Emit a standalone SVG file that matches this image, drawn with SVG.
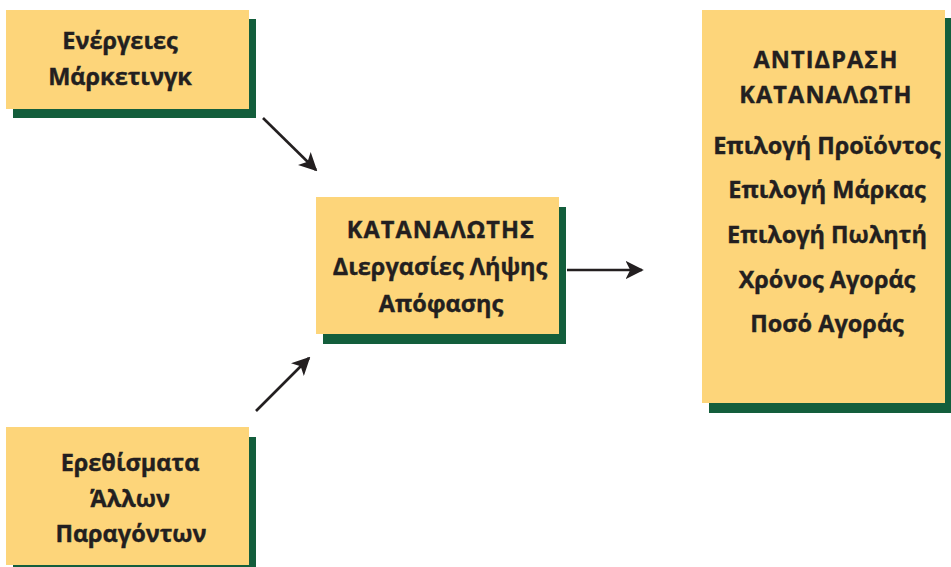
<svg xmlns="http://www.w3.org/2000/svg" width="951" height="567" viewBox="0 0 951 567">
  <style>
    .box { fill: #fdd57a; }
    .shadow { fill: #135e3c; }
    .label { font-family: "Open Sans", "Noto Sans", "DejaVu Sans", sans-serif; font-weight: bold; font-size: 23.5px; fill: #231f20; stroke: #231f20; stroke-width: 0.4; text-anchor: middle; }
    .caps { letter-spacing: 1.1px; }
    .conn { stroke: #231f20; stroke-width: 2.6; fill: none; marker-end: url(#head); }
  </style>
  <defs>
    <marker id="head" viewBox="0 0 10 10" refX="9" refY="5" markerWidth="7" markerHeight="7" markerUnits="strokeWidth" orient="auto">
      <path d="M0,0 L10,5 L0,10 L2.5,5 Z" fill="#231f20"/>
    </marker>
  </defs>

  <rect width="951" height="567" fill="#ffffff"/>

  <g id="marketing">
    <rect class="shadow" x="13" y="19" width="243" height="99"/>
    <rect class="box" x="6" y="10" width="243" height="99"/>
    <text class="label" x="120" y="49">Ενέργειες</text>
    <text class="label" x="120" y="85">Μάρκετινγκ</text>
  </g>

  <g id="other-stimuli">
    <rect class="shadow" x="13" y="437" width="243" height="130"/>
    <rect class="box" x="6" y="427" width="243" height="138"/>
    <text class="label" x="130" y="471">Ερεθίσματα</text>
    <text class="label" x="130" y="507">Άλλων</text>
    <text class="label" x="131" y="542">Παραγόντων</text>
  </g>

  <g id="consumer">
    <rect class="shadow" x="323" y="207" width="243" height="137"/>
    <rect class="box" x="316" y="197" width="243" height="137"/>
    <text class="label caps" x="441" y="238">ΚΑΤΑΝΑΛΩΤΗΣ</text>
    <text class="label" x="440" y="275">Διεργασίες Λήψης</text>
    <text class="label" x="441" y="312">Απόφασης</text>
  </g>

  <g id="response">
    <rect class="shadow" x="709" y="18" width="242" height="395"/>
    <rect class="box" x="702" y="10" width="243" height="393"/>
    <text class="label caps" x="826" y="68">ΑΝΤΙΔΡΑΣΗ</text>
    <text class="label caps" x="826" y="103">ΚΑΤΑΝΑΛΩΤΗ</text>
    <text class="label" x="827" y="154">Επιλογή Προϊόντος</text>
    <text class="label" x="827" y="198">Επιλογή Μάρκας</text>
    <text class="label" x="827" y="243">Επιλογή Πωλητή</text>
    <text class="label" x="827" y="288">Χρόνος Αγοράς</text>
    <text class="label" x="827" y="332">Ποσό Αγοράς</text>
  </g>

  <g id="connectors">
    <line class="conn" x1="263" y1="118" x2="316" y2="170"/>
    <line class="conn" x1="256" y1="411" x2="309" y2="358"/>
    <line class="conn" x1="567" y1="270" x2="642" y2="270"/>
  </g>
</svg>
